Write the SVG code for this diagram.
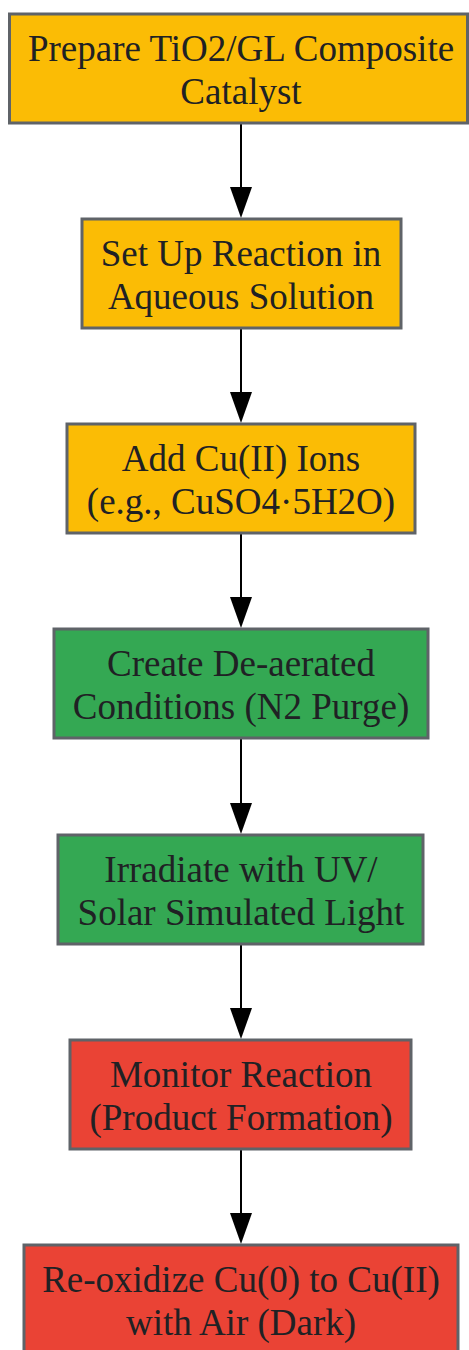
<svg xmlns="http://www.w3.org/2000/svg" width="469" height="1350" viewBox="0 0 469 1350">
<style>
.box{stroke:#5F6368;stroke-width:3}
.y{fill:#FBBC05}.g{fill:#34A853}.r{fill:#EA4335}
text{font-family:"Liberation Serif","Times New Roman",serif;font-size:37px;fill:#202124;text-anchor:middle}
.edge{stroke:#000;stroke-width:2;fill:none}
</style>
<defs>
<marker id="ah" viewBox="0 0 31 22" markerWidth="31" markerHeight="22" refX="0" refY="11" orient="auto" markerUnits="userSpaceOnUse">
<path d="M0,0 L31,11 L0,22 Z" fill="#000"/>
</marker>
</defs>
<rect width="469" height="1350" fill="#fff"/>
<g id="edges">
<line class="edge" x1="241" y1="124" x2="241" y2="187" marker-end="url(#ah)"/>
<line class="edge" x1="241" y1="329" x2="241" y2="392" marker-end="url(#ah)"/>
<line class="edge" x1="241" y1="534" x2="241" y2="597" marker-end="url(#ah)"/>
<line class="edge" x1="241" y1="739" x2="241" y2="803" marker-end="url(#ah)"/>
<line class="edge" x1="241" y1="945" x2="241" y2="1008" marker-end="url(#ah)"/>
<line class="edge" x1="241" y1="1150" x2="241" y2="1213" marker-end="url(#ah)"/>
</g>
<g id="n1">
<rect class="box y" x="9.5" y="14" width="458" height="109"/>
<text x="241" y="61">Prepare TiO2/GL Composite</text>
<text x="241" y="104">Catalyst</text>
</g>
<g id="n2">
<rect class="box y" x="82" y="219" width="319" height="109"/>
<text x="241" y="266">Set Up Reaction in</text>
<text x="241" y="309">Aqueous Solution</text>
</g>
<g id="n3">
<rect class="box y" x="67" y="424" width="348" height="109"/>
<text x="241" y="471">Add Cu(II) Ions</text>
<text x="241" y="514">(e.g., CuSO4·5H2O)</text>
</g>
<g id="n4">
<rect class="box g" x="54" y="629" width="374" height="109"/>
<text x="241" y="676">Create De-aerated</text>
<text x="241" y="719">Conditions (N2 Purge)</text>
</g>
<g id="n5">
<rect class="box g" x="58" y="835" width="365" height="109"/>
<text x="241" y="882">Irradiate with UV/</text>
<text x="241" y="925">Solar Simulated Light</text>
</g>
<g id="n6">
<rect class="box r" x="70" y="1040" width="341" height="109"/>
<text x="241" y="1087">Monitor Reaction</text>
<text x="241" y="1130">(Product Formation)</text>
</g>
<g id="n7">
<rect class="box r" x="24" y="1245" width="434" height="109"/>
<text x="241" y="1292">Re-oxidize Cu(0) to Cu(II)</text>
<text x="241" y="1335">with Air (Dark)</text>
</g>
</svg>
